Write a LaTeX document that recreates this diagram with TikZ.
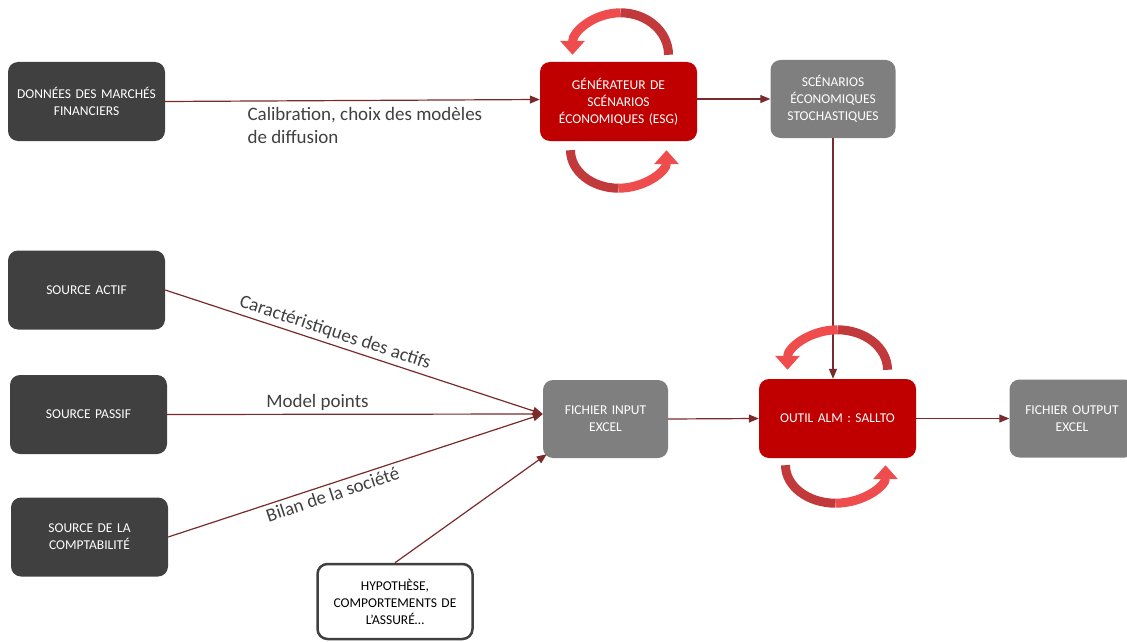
\documentclass[tikz,border=0pt]{standalone}
\usepackage{fontspec}
\setmainfont{Carlito}
\usetikzlibrary{arrows.meta}
\definecolor{boxdark}{HTML}{404040}
\definecolor{boxred}{HTML}{C00000}
\definecolor{boxgrey}{HTML}{7F7F7F}
\definecolor{flowred}{HTML}{7A2A2A}
\definecolor{loopdark}{HTML}{C2393C}
\definecolor{looplight}{HTML}{EF4D4D}
\definecolor{lbltext}{HTML}{404040}
\tikzset{
  box/.style={rounded corners=10pt, minimum width=157pt, minimum height=79pt, inner sep=0pt,
    text width=152pt, align=center, text=white, font=\fontsize{13.5}{17}\selectfont},
  darkbox/.style={box, fill=boxdark},
  redbox/.style={box, fill=boxred},
  greybox/.style={box, fill=boxgrey, minimum width=125pt, minimum height=78pt, text width=122pt},
  hypbox/.style={box, fill=white, draw=boxdark, line width=2.5pt, minimum width=155pt,
    minimum height=75pt, text=black},
  flow/.style={draw=flowred, line width=1.2pt, -{Triangle[length=10pt,width=8pt]}},
  lbl/.style={text=lbltext, font=\fontsize{19}{23}\selectfont},
  loopa/.style={draw=loopdark, line width=9pt},
  loopb/.style={draw=looplight, line width=9pt, -{Triangle[length=14pt,width=24pt]}}
}
\begin{document}
\begin{tikzpicture}[x=1pt,y=-1pt]
\useasboundingbox (0,0) rectangle (1127,642);
% boxes
\node[darkbox] (donnees) at (86.5,101.5) {DONNÉES DES MARCHÉS\\FINANCIERS};
\node[redbox] (esg) at (618.5,101.5) {GÉNÉRATEUR DE\\SCÉNARIOS\\ÉCONOMIQUES (ESG)};
\node[greybox] (scen) at (833,99) {SCÉNARIOS\\ÉCONOMIQUES\\STOCHASTIQUES};
\node[darkbox] (actif) at (86.5,290) {SOURCE ACTIF};
\node[darkbox] (passif) at (88.5,414.5) {SOURCE PASSIF};
\node[darkbox] (compta) at (89.5,537) {SOURCE DE LA\\COMPTABILITÉ};
\node[hypbox] (hyp) at (395,601.5) {HYPOTHÈSE,\\COMPORTEMENTS DE\\L’ASSURÉ…};
\node[greybox] (input) at (605.5,419) {FICHIER INPUT\\EXCEL};
\node[redbox] (outil) at (837.5,418.5) {OUTIL ALM : SALLTO};
\node[greybox] (output) at (1072,418.5) {FICHIER OUTPUT\\EXCEL};
% connectors
\draw[flow] (donnees.east) -- ([yshift=2pt]esg.west);
\node[lbl, anchor=north west, align=left] (calib) at (244,104) {Calibration, choix des modèles\\de diffusion};
\draw[flow] (esg.east |- scen.west) -- (scen.west);
\draw[flow] (scen.south) -- (scen.south |- outil.north);
\draw[flow] (actif.east) -- node[lbl, sloped, above, pos=0.44] {Caractéristiques des actifs} ([yshift=5pt]input.west);
\draw[flow] (passif.east) -- node[lbl, above, pos=0.4] {Model points} ([yshift=5pt]input.west);
\draw[flow] (compta.east) -- node[lbl, sloped, below, pos=0.43] {Bilan de la société} ([yshift=5pt]input.west);
\draw[flow] (hyp.north) -- ([xshift=4pt,yshift=4pt]input.south west);
\draw[flow] (input.east) -- (outil.west);
\draw[flow] (outil.east) -- (output.west);
% loops
\draw[loopa] ([xshift=50pt,yshift=7pt]esg.north) arc (0:-90:48 and 42) coordinate (e1);
\draw[loopb] (e1) arc (-90:-180:48 and 42);
\draw[loopa] ([xshift=-48pt,yshift=-9pt]esg.south) arc (180:90:48 and 38) coordinate (e2);
\draw[loopb] (e2) arc (90:0:48 and 38);
\draw[loopa] ([xshift=50pt,yshift=9pt]outil.north) arc (0:-90:50 and 40) coordinate (o1);
\draw[loopb] (o1) arc (-90:-180:50 and 40);
\draw[loopa] ([xshift=-52pt,yshift=-7pt]outil.south) arc (180:90:50 and 38) coordinate (o2);
\draw[loopb] (o2) arc (90:0:50 and 38);
\end{tikzpicture}
\end{document}
